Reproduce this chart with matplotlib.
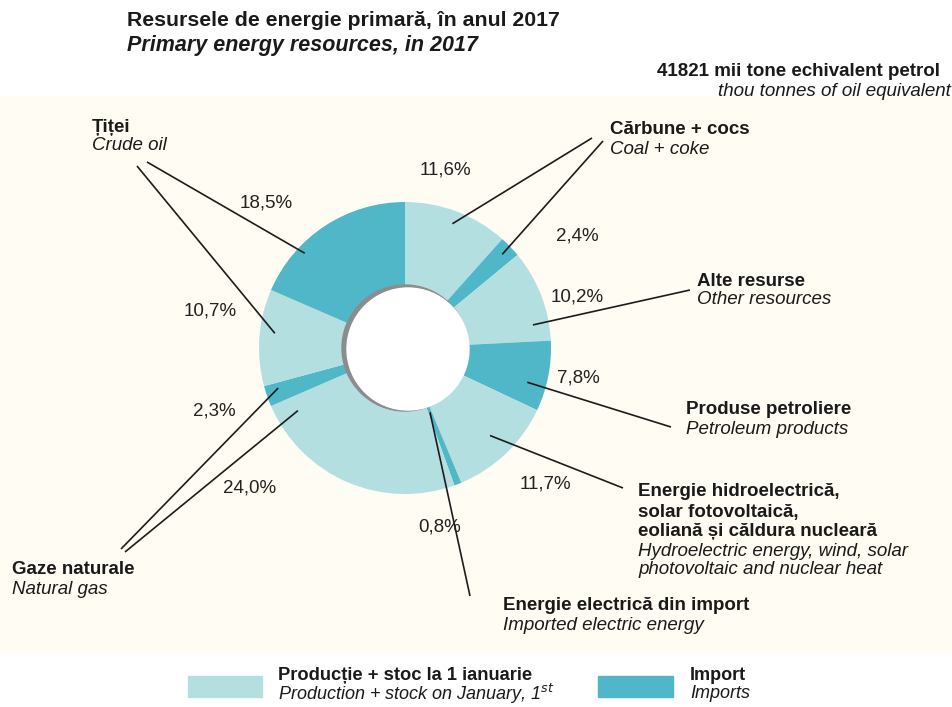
import matplotlib.pyplot as plt
from matplotlib.patches import Rectangle, Circle
import numpy as np

plt.rcParams["font.family"] = ["Liberation Sans", "DejaVu Sans"]

# Shares of primary energy resources, clockwise from 12 o'clock (%)
shares = [11.6, 2.4, 10.2, 7.8, 11.7, 0.8, 24.0, 2.3, 10.7, 18.5]
kinds = ["prod", "imp", "prod", "imp", "prod", "imp", "prod", "imp", "prod", "imp"]
pct_labels = ["11,6%", "2,4%", "10,2%", "7,8%", "11,7%",
              "0,8%", "24,0%", "2,3%", "10,7%", "18,5%"]

LIGHT = "#b3dfe1"
DARK = "#4fb7c7"
CREAM = "#fffcf3"
INK = "#1a1a1a"
H = 707

def y(p):
    # pixel row -> axis coordinate
    return H - p

fig = plt.figure(figsize=(9.53, 7.07), dpi=100)
ax = fig.add_axes([0, 0, 1, 1])

# cream panel behind the chart
ax.add_patch(Rectangle((0, y(652)), 953, 652 - 97, color=CREAM, zorder=0))

cx, cy, R, r_in = 405, y(348), 146, 62
colors = [LIGHT if k == "prod" else DARK for k in kinds]
wedges, _ = ax.pie(shares, colors=colors, startangle=90, counterclock=False,
                   center=(cx, cy), radius=R, frame=True,
                   wedgeprops=dict(width=R - r_in, linewidth=0))
ax.set_xlim(0, 953)
ax.set_ylim(0, H)
ax.set_aspect("equal")
ax.axis("off")

# hole with a soft grey shadow on its left side
ax.add_patch(Circle((cx, cy), r_in + 1, color="#8c8c8c", zorder=3))
ax.add_patch(Circle((cx + 3, cy - 1), r_in - 1, color="white", zorder=4))

# leader lines: position inside the wedge (fraction of its sweep, radius)
# and the end point next to the category name (px)
leader_t = [0.5, 0.5, 0.8, 0.66, 0.49, 0.5, 0.92, 0.71, 0.56, 0.3]
leader_r = [133, 135, 130, 127, 122, 69, 124, 133, 131, 138]
leader_end = [(592, 138), (603, 141), (690, 290), (671, 427), (623, 488),
              (470, 596), (125, 552), (121, 549), (137, 166), (147, 162)]
pct_pos = [(445, 170), (577, 236), (577, 297), (578, 378), (545, 484),
           (440, 527), (250, 488), (214, 411), (210, 311), (266, 203)]

for w, t, rr, (ex, ey), lab, (px, py) in zip(wedges, leader_t, leader_r,
                                             leader_end, pct_labels, pct_pos):
    ang = np.deg2rad(w.theta2 + t * (w.theta1 - w.theta2))
    sx, sy = cx + rr * np.cos(ang), cy + rr * np.sin(ang)
    ax.plot([sx, ex], [sy, y(ey)], color="#1c1c1c", lw=1.2, zorder=5,
            solid_capstyle="butt")
    ax.text(px, y(py), lab, fontsize=13.5, ha="center", va="center",
            color="#222222", zorder=6)

# category names: bold Romanian lines, then italic English lines
def name(x0, rows_ro, rows_en, ys):
    for txt, yy in zip(rows_ro + rows_en, ys):
        bold = txt in rows_ro
        ax.text(x0, y(yy), txt, fontsize=13.5,
                fontweight="bold" if bold else "normal",
                style="normal" if bold else "italic",
                ha="left", va="center", color=INK)

name(92, ["Țiței"], ["Crude oil"], [127, 146])
name(610, ["Cărbune + cocs"], ["Coal + coke"], [130, 150])
name(697, ["Alte resurse"], ["Other resources"], [281, 300])
name(686, ["Produse petroliere"], ["Petroleum products"], [410, 430])
name(638, ["Energie hidroelectrică,", "solar fotovoltaică,",
           "eoliană și căldura nucleară"],
     ["Hydroelectric energy, wind, solar", "photovoltaic and nuclear heat"],
     [492, 512, 531, 551, 570])
name(503, ["Energie electrică din import"], ["Imported electric energy"],
     [605, 625])
name(12, ["Gaze naturale"], ["Natural gas"], [570, 590])

# titles
ax.text(127, y(20), "Resursele de energie primară, în anul 2017",
        fontsize=15.3, fontweight="bold", va="center", color=INK)
ax.text(127, y(45), "Primary energy resources, in 2017", fontsize=15.5,
        fontweight="bold", style="italic", va="center", color=INK)
ax.text(940, y(72), "41821 mii tone echivalent petrol", fontsize=13.5,
        fontweight="bold", ha="right", va="center", color=INK)
ax.text(951, y(92), "thou tonnes of oil equivalent", fontsize=13.5,
        style="italic", ha="right", va="center", color=INK)

# legend
ax.add_patch(Rectangle((188, y(697)), 74, 21, color=LIGHT, zorder=2))
ax.add_patch(Rectangle((598, y(697)), 75, 21, color=DARK, zorder=2))
ax.text(278, y(675), "Producție + stoc la 1 ianuarie", fontsize=13.2,
        fontweight="bold", va="center", color=INK)
ax.text(278, y(694), "Production + stock on January, 1$^{st}$", fontsize=13,
        style="italic", va="center", color=INK)
ax.text(690, y(675), "Import", fontsize=13, fontweight="bold", va="center",
        color=INK)
ax.text(690, y(694), "Imports", fontsize=13, style="italic", va="center",
        color=INK)

fig.savefig("out.png", dpi=100, facecolor="white")
